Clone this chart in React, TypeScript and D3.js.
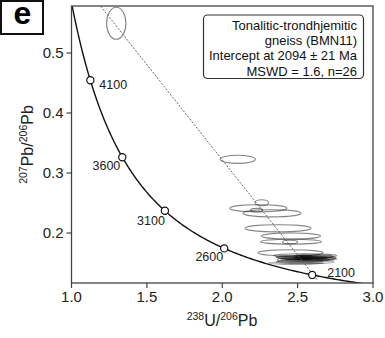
import React from "react";
import * as d3 from "d3";

// ---- data ----
const xTicks = [1.0, 1.5, 2.0, 2.5, 3.0];
const yTicks = [0.2, 0.3, 0.4, 0.5];
const markerAges = [2100, 2600, 3100, 3600, 4100];
const concordiaAgeRange = [1800, 4600];
// ellipses: centre (x,y) and semi-axes (rx, ry) in data units
const ellX = [1.297, 2.103, 2.262, 2.240, 2.330, 2.370, 2.456, 2.456, 2.453, 2.228, 2.450,
  2.549, 2.556, 2.562, 2.569, 2.536, 2.582, 2.516, 2.549, 2.490, 2.615, 2.595, 2.529, 2.536, 2.630, 2.500];
const ellY = [0.5495, 0.3228, 0.2505, 0.2412, 0.2328, 0.2078, 0.1950, 0.1855, 0.1670, 0.2380, 0.1850,
  0.1625, 0.1600, 0.1583, 0.1575, 0.1558, 0.1550, 0.1533, 0.1517, 0.1500, 0.1610, 0.1590, 0.1580, 0.1610, 0.1567, 0.1590];
const ellRx = [0.064, 0.117, 0.045, 0.189, 0.192, 0.219, 0.196, 0.202, 0.216, 0.040, 0.050,
  0.210, 0.200, 0.190, 0.180, 0.170, 0.160, 0.150, 0.190, 0.180, 0.120, 0.100, 0.050, 0.060, 0.130, 0.140];
const ellRy = [0.0267, 0.0067, 0.0050, 0.0058, 0.0060, 0.0060, 0.0050, 0.0040, 0.0050, 0.0030, 0.0030,
  0.0030, 0.0025, 0.0025, 0.0020, 0.0025, 0.0020, 0.0025, 0.0025, 0.0020, 0.0025, 0.0020, 0.0025, 0.0025, 0.0020, 0.0020];
const discordiaX = [1.15, 2.63];
const discordiaY = [0.5917, 0.1219];
const legendLines = [
  "Tonalitic-trondhjemitic",
  "gneiss (BMN11)",
  "Intercept at 2094 \u00b1 21 Ma",
  "MSWD = 1.6, n=26",
];
const panelLabel = "e";

// decay constants (per year)
const L238 = 1.55125e-10;
const L235 = 9.8485e-10;
const U_RATIO = 137.88;
function tw(ageMa: number): [number, number] {
  const t = ageMa * 1e6;
  const e8 = Math.exp(L238 * t) - 1;
  const e5 = Math.exp(L235 * t) - 1;
  return [1 / e8, e5 / e8 / U_RATIO];
}

const W = 385;
const H = 338;
const M = { left: 71.5, right: 373, top: 6, bottom: 283 };
const FONT = "'Liberation Sans', Arial, Helvetica, sans-serif";

export default function App() {
  const x = d3.scaleLinear().domain([1, 3]).range([M.left, M.right]);
  const y = d3.scaleLinear().domain([0.11667, 0.57833]).range([M.bottom, M.top]);

  const ages = d3.range(concordiaAgeRange[0], concordiaAgeRange[1] + 1, 10);
  const line = d3
    .line<number>()
    .x((a) => x(tw(a)[0]))
    .y((a) => y(tw(a)[1]))
    .curve(d3.curveLinear);
  const concPath = line(ages) || "";

  const markerLabelPos: Record<number, { dx: number; dy: number; anchor: string }> = {
    4100: { dx: 9, dy: 9, anchor: "start" },
    3600: { dx: -2, dy: 13, anchor: "end" },
    3100: { dx: 0, dy: 14, anchor: "end" },
    2600: { dx: -1, dy: 13, anchor: "end" },
    2100: { dx: 15, dy: 2, anchor: "start" },
  };

  return (
    <svg
      width={W}
      height={H}
      style={{ position: "absolute", left: 0, top: 0, background: "#fff" }}
      fontFamily={FONT}
    >
      <defs>
        <clipPath id="plot">
          <rect x={M.left} y={M.top} width={M.right - M.left} height={M.bottom - M.top} />
        </clipPath>
      </defs>

      {/* panel label */}
      <rect x={1} y={1} width={42} height={33} fill="#fff" stroke="#111" strokeWidth={2} />
      <text x={22.5} y={24} textAnchor="middle" fontSize={32} fontWeight="bold" fill="#000">
        {panelLabel}
      </text>

      <g clipPath="url(#plot)">
        {/* ellipses */}
        {ellX.map((cx, i) => (
          <ellipse
            key={i}
            cx={x(cx)}
            cy={y(ellY[i])}
            rx={x(cx + ellRx[i]) - x(cx)}
            ry={y(ellY[i]) - y(ellY[i] + ellRy[i])}
            fill="none"
            stroke="#000"
            strokeOpacity={0.48}
            strokeWidth={1.1}
          />
        ))}
        {/* discordia */}
        <line
          x1={x(discordiaX[0])}
          y1={y(discordiaY[0])}
          x2={x(discordiaX[1])}
          y2={y(discordiaY[1])}
          stroke="#555"
          strokeWidth={0.9}
          strokeDasharray="2,1.5"
        />
        {/* concordia */}
        <path d={concPath} fill="none" stroke="#111" strokeWidth={1.4} />
      </g>

      {/* markers */}
      {markerAges.map((a) => {
        const [mx, my] = tw(a);
        const p = markerLabelPos[a];
        return (
          <g key={a}>
            <circle cx={x(mx)} cy={y(my)} r={3.6} fill="#fff" stroke="#111" strokeWidth={1.2} />
            <text
              x={x(mx) + p.dx}
              y={y(my) + p.dy}
              textAnchor={p.anchor as any}
              fontSize={12.5}
              fill="#222"
            >
              {a}
            </text>
          </g>
        );
      })}

      {/* frame */}
      <rect
        x={M.left}
        y={M.top}
        width={M.right - M.left}
        height={M.bottom - M.top}
        fill="none"
        stroke="#444"
        strokeWidth={1.3}
      />

      {/* x axis */}
      {xTicks.map((t) => (
        <g key={t}>
          <line x1={x(t)} x2={x(t)} y1={M.bottom} y2={M.bottom + 5} stroke="#444" strokeWidth={1.2} />
          <text x={x(t)} y={M.bottom + 19} textAnchor="middle" fontSize={15} fill="#222">
            {d3.format(".1f")(t)}
          </text>
        </g>
      ))}
      {/* y axis */}
      {yTicks.map((t) => (
        <g key={t}>
          <line x1={M.left - 5} x2={M.left} y1={y(t)} y2={y(t)} stroke="#444" strokeWidth={1.2} />
          <text x={M.left - 8} y={y(t) + 5.3} textAnchor="end" fontSize={15} fill="#222">
            {d3.format(".1f")(t)}
          </text>
        </g>
      ))}

      {/* axis titles */}
      <text x={222} y={326} textAnchor="middle" fontSize={16} fill="#222">
        <tspan fontSize={10.5} dy={-6.5}>238</tspan>
        <tspan dy={6.5}>U/</tspan>
        <tspan fontSize={10.5} dy={-6.5}>206</tspan>
        <tspan dy={6.5}>Pb</tspan>
      </text>
      <text
        transform={`translate(33, ${(M.top + M.bottom) / 2}) rotate(-90)`}
        textAnchor="middle"
        fontSize={16}
        fill="#222"
      >
        <tspan fontSize={10.5} dy={-6.5}>207</tspan>
        <tspan dy={6.5}>Pb/</tspan>
        <tspan fontSize={10.5} dy={-6.5}>206</tspan>
        <tspan dy={6.5}>Pb</tspan>
      </text>

      {/* legend */}
      <rect x={203.5} y={15} width={160} height={63.5} rx={4} fill="#fff" stroke="#333" strokeWidth={1.2} />
      {legendLines.map((l, i) => (
        <text key={i} x={357} y={29.5 + i * 15.4} textAnchor="end" fontSize={13} fill="#111">
          {l}
        </text>
      ))}
    </svg>
  );
}
